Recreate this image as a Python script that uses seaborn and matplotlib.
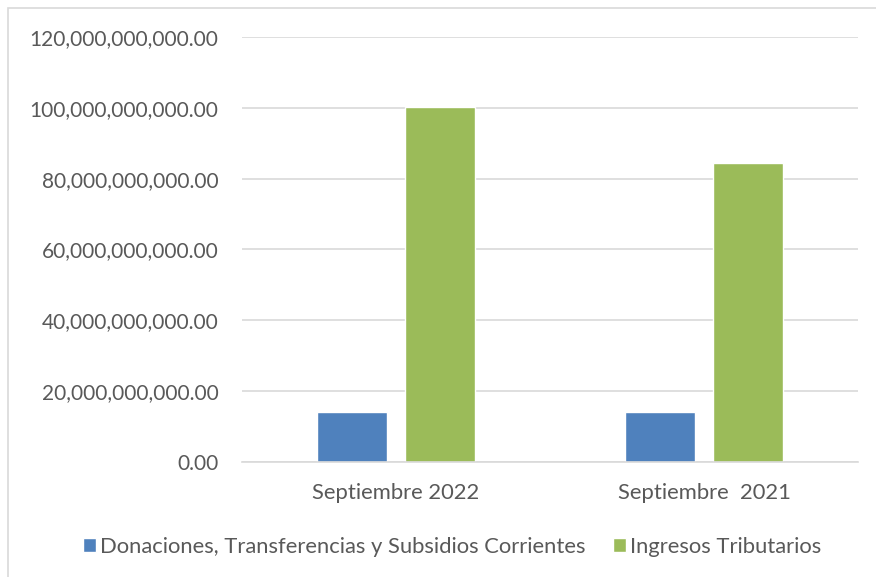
import matplotlib
matplotlib.use("Agg")
import matplotlib.pyplot as plt
import matplotlib.ticker as mticker
from matplotlib.patches import Rectangle
import pandas as pd
import seaborn as sns

# data
periodos = ["Septiembre 2022", "Septiembre  2021"]
series = ["Donaciones, Transferencias y Subsidios Corrientes", "Ingresos Tributarios"]
donaciones = [14.2e9, 14.0e9]
tributarios = [100.1e9, 84.5e9]
colores = ["#4F81BD", "#9BBB59"]

df = pd.DataFrame({
    "periodo": periodos * 2,
    "serie": [series[0]] * 2 + [series[1]] * 2,
    "valor": donaciones + tributarios,
})

sns.set_style("white")
plt.rcParams["font.family"] = ["Lato", "DejaVu Sans"]

fig = plt.figure(figsize=(8.76, 5.77), dpi=100)
ax = fig.add_axes([242 / 876, 1 - 462 / 577, 616 / 876, 425 / 577])

sns.barplot(data=df, x="periodo", y="valor", hue="serie", order=periodos,
            hue_order=series, palette=colores, width=0.568, gap=0.2,
            saturation=1, ax=ax, legend=True)

ax.set_ylim(0, 120e9)
ax.set_xlim(-0.5, 1.5)
ax.yaxis.set_major_locator(mticker.MultipleLocator(20e9))
ax.yaxis.set_major_formatter(mticker.FuncFormatter(lambda v, p: f"{v:,.2f}"))
ax.grid(axis="y", color="#d9d9d9", linewidth=1.2)
ax.set_axisbelow(True)
for s in ["top", "right", "left"]:
    ax.spines[s].set_visible(False)
ax.spines["bottom"].set_color("#d9d9d9")
ax.spines["bottom"].set_linewidth(1.2)
ax.tick_params(axis="both", length=0, labelcolor="#595959")
ax.tick_params(axis="y", pad=17, labelsize=15)
ax.tick_params(axis="x", pad=15, labelsize=15.8)
ax.set_xlabel("")
ax.set_ylabel("")

handles, labels = ax.get_legend_handles_labels()
ax.legend(handles, labels, loc="center", bbox_to_anchor=(452 / 876, 1 - 547 / 577),
          bbox_transform=fig.transFigure, ncol=2, frameon=False, fontsize=15.8,
          labelcolor="#595959", handlelength=0.6, handleheight=0.6,
          handletextpad=0.15, columnspacing=1.27, borderpad=0)

# outer chart border
fig.patches.append(Rectangle((8 / 876, -0.1), 1.1, 1 - 8 / 577 + 0.1,
                             transform=fig.transFigure, fill=False,
                             edgecolor="#d9d9d9", linewidth=1.2))

fig.savefig("out.png", dpi=100)
